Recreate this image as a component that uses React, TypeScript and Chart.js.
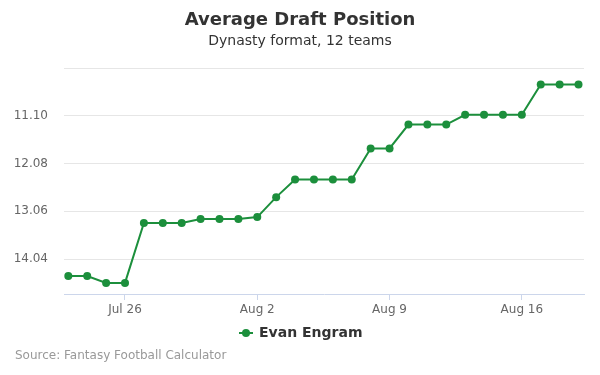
import React, { useEffect, useRef } from "react";
import { Chart, registerables } from "chart.js";

Chart.register(...registerables);

const dates = [
  "Jul 23", "Jul 24", "Jul 25", "Jul 26", "Jul 27", "Jul 28", "Jul 29", "Jul 30", "Jul 31",
  "Aug 1", "Aug 2", "Aug 3", "Aug 4", "Aug 5", "Aug 6", "Aug 7", "Aug 8", "Aug 9", "Aug 10",
  "Aug 11", "Aug 12", "Aug 13", "Aug 14", "Aug 15", "Aug 16", "Aug 17", "Aug 18", "Aug 19",
];
const adp = [
  14.39, 14.39, 14.53, 14.53, 13.3, 13.3, 13.3, 13.22, 13.22,
  13.22, 13.18, 12.77, 12.41, 12.41, 12.41, 12.41, 11.77, 11.77, 11.28,
  11.28, 11.28, 11.08, 11.08, 11.08, 11.08, 10.46, 10.46, 10.46,
];
const xTickLabels = ["Jul 26", "Aug 2", "Aug 9", "Aug 16"];
const yTicks = [10.12, 11.1, 12.08, 13.06, 14.04];
const seriesName = "Evan Engram";
const titleText = "Average Draft Position";
const subtitleText = "Dynasty format, 12 teams";
const sourceText = "Source: Fantasy Football Calculator";

const COLOR = "#1c8f3c";
const FONT = "'DejaVu Sans', sans-serif";

export default function App() {
  const ref = useRef<HTMLCanvasElement | null>(null);
  useEffect(() => {
    if (!ref.current) return;
    const points = adp.map((v, i) => ({ x: i, y: v }));
    const xTickIdx = xTickLabels.map((l) => dates.indexOf(l));
    const textPlugin = {
      id: "texts",
      afterDraw(chart: any) {
        const ctx = chart.ctx;
        ctx.save();
        ctx.textBaseline = "middle";
        ctx.textAlign = "center";
        ctx.fillStyle = "#333333";
        ctx.font = `bold 18px ${FONT}`;
        ctx.fillText(titleText, 300, 20);
        ctx.font = `14px ${FONT}`;
        ctx.fillText(subtitleText, 300, 41);
        // legend
        ctx.strokeStyle = COLOR;
        ctx.lineWidth = 2;
        ctx.beginPath();
        ctx.moveTo(239, 333);
        ctx.lineTo(253, 333);
        ctx.stroke();
        ctx.fillStyle = COLOR;
        ctx.beginPath();
        ctx.arc(246, 333, 4, 0, Math.PI * 2);
        ctx.fill();
        ctx.fillStyle = "#333333";
        ctx.textAlign = "left";
        ctx.font = `bold 14px ${FONT}`;
        ctx.fillText(seriesName, 259, 333);
        ctx.fillStyle = "#999999";
        ctx.font = `12px ${FONT}`;
        ctx.fillText(sourceText, 15, 356);
        ctx.restore();
      },
    };
    const chart = new Chart(ref.current, {
      type: "line",
      data: {
        datasets: [
          {
            label: seriesName,
            data: points,
            borderColor: COLOR,
            backgroundColor: COLOR,
            borderWidth: 2,
            pointRadius: 4,
            pointHoverRadius: 4,
            pointBorderWidth: 0,
            tension: 0,
          },
        ],
      },
      options: {
        animation: false,
        responsive: false,
        layout: { padding: { top: 68, right: 16, left: 0, bottom: 0 } },
        plugins: { legend: { display: false }, title: { display: false }, tooltip: { enabled: false } },
        scales: {
          x: {
            type: "linear",
            min: -0.228,
            max: 27.29,
            afterFit(scale: any) {
              scale.height = 81;
            },
            afterBuildTicks(scale: any) {
              scale.ticks = xTickIdx.map((v) => ({ value: v }));
            },
            ticks: {
              callback: (v: any) => dates[Math.round(Number(v))] ?? "",
              color: "#666666",
              font: { family: FONT, size: 12 },
              padding: 3,
              maxRotation: 0,
              autoSkip: false,
            },
            grid: { drawOnChartArea: false, drawTicks: true, tickLength: 6, color: "#ccd6eb" },
            border: { display: true, color: "#ccd6eb" },
          },
          y: {
            type: "linear",
            reverse: true,
            min: 10.12,
            max: 14.758,
            afterFit(scale: any) {
              scale.width = 64;
            },
            afterBuildTicks(scale: any) {
              scale.ticks = yTicks.map((v) => ({ value: v }));
            },
            ticks: {
              callback: (v: any) => (Math.abs(Number(v) - yTicks[0]) < 1e-6 ? "" : Number(v).toFixed(2)),
              color: "#666666",
              font: { family: FONT, size: 12 },
              padding: 16,
            },
            grid: { color: "#e6e6e6", drawTicks: false },
            border: { display: false },
          },
        },
      },
      plugins: [textPlugin],
    } as any);
    return () => chart.destroy();
  }, []);
  return (
    <div style={{ position: "absolute", left: 0, top: 0, width: 600, height: 375, background: "#fff" }}>
      <canvas ref={ref} width={600} height={375} style={{ width: 600, height: 375, display: "block" }} />
    </div>
  );
}
